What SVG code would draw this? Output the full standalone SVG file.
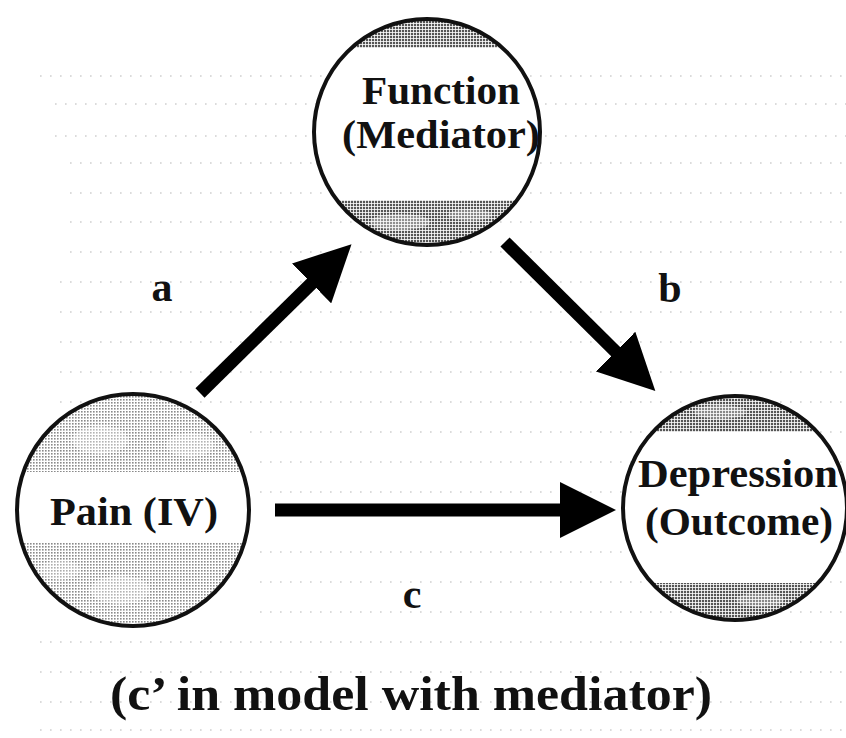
<svg xmlns="http://www.w3.org/2000/svg" width="846" height="738" viewBox="0 0 846 738">
<style>
.lbl{font-family:"Liberation Serif","Times New Roman",serif;font-weight:bold;fill:#111}
.ring{fill:none;stroke:#111;stroke-width:4}
.edge{stroke:#000;stroke-width:13;fill:none}
.bg{stroke:#cfcfcf;stroke-width:1.6;stroke-dasharray:1.6 8.4;fill:none}
</style>
<defs>
<marker id="head" markerUnits="userSpaceOnUse" viewBox="0 0 56 56" markerWidth="56" markerHeight="56" refX="2" refY="28" orient="auto">
<path d="M0,0 L56,28 L0,56 z" fill="#000"/>
</marker>
<pattern id="dotDark" width="3" height="3" patternUnits="userSpaceOnUse">
<rect width="3" height="3" fill="#fff"/><rect width="2.2" height="2.2" fill="#555"/>
</pattern>
<pattern id="dotLight" width="3" height="3" patternUnits="userSpaceOnUse">
<rect width="3" height="3" fill="#fff"/><rect width="1.6" height="1.6" fill="#8a8a8a"/>
</pattern>
<clipPath id="cFunc"><circle cx="427" cy="132" r="113"/></clipPath>
<clipPath id="cPain"><circle cx="133" cy="510" r="116"/></clipPath>
<clipPath id="cDep"><circle cx="735" cy="508" r="112"/></clipPath>
</defs>
<rect width="846" height="738" fill="#fff"/>
<g id="background">
<path class="bg" d="M40,76 H846 M55,104 H846 M55,136 H846 M70,163 H846 M70,193 H846 M70,222 H846 M70,252 H846 M60,282 H846 M60,312 H846 M60,342 H846 M60,372 H846 M60,402 H846 M250,432 H846 M260,462 H846 M260,492 H846 M260,552 H846 M260,582 H846 M260,612 H846 M40,642 H846 M40,672 H846 M40,702 H846 M40,730 H846"/>
</g>
<g id="connectors">
<line id="edge-a" class="edge" x1="200" y1="393" x2="313" y2="282" marker-end="url(#head)"/>
<line id="edge-b" class="edge" x1="505" y1="242" x2="617" y2="353" marker-end="url(#head)"/>
<line id="edge-c" class="edge" x1="275" y1="510" x2="562" y2="510" marker-end="url(#head)"/>
</g>
<g id="node-function">
<circle cx="427" cy="132" r="113" fill="#fff"/>
<g clip-path="url(#cFunc)">
<rect x="300" y="10" width="260" height="38" fill="url(#dotDark)"/>
<rect x="300" y="200" width="260" height="60" fill="url(#dotDark)"/>
<ellipse cx="400" cy="222" rx="30" ry="8" fill="#fff" opacity="0.35"/>
<ellipse cx="470" cy="215" rx="22" ry="6" fill="#fff" opacity="0.3"/>
</g>
<circle class="ring" cx="427" cy="132" r="113"/>
<text class="lbl" x="441" y="104" font-size="41" text-anchor="middle" textLength="158" lengthAdjust="spacingAndGlyphs">Function</text>
<text class="lbl" x="441" y="148" font-size="41" text-anchor="middle" textLength="198" lengthAdjust="spacingAndGlyphs">(Mediator)</text>
</g>
<g id="node-pain">
<circle cx="133" cy="510" r="116" fill="#fff"/>
<g clip-path="url(#cPain)">
<rect x="10" y="390" width="250" height="82" fill="url(#dotLight)"/>
<rect x="10" y="543" width="250" height="90" fill="url(#dotLight)"/>
<ellipse cx="100" cy="440" rx="28" ry="14" fill="#fff" opacity="0.35"/>
<ellipse cx="190" cy="445" rx="24" ry="12" fill="#fff" opacity="0.35"/>
<ellipse cx="120" cy="590" rx="30" ry="14" fill="#fff" opacity="0.35"/>
<ellipse cx="60" cy="570" rx="20" ry="10" fill="#fff" opacity="0.3"/>
</g>
<circle class="ring" cx="133" cy="510" r="116"/>
<text class="lbl" x="134" y="525" font-size="41" text-anchor="middle" textLength="168" lengthAdjust="spacingAndGlyphs">Pain (IV)</text>
</g>
<g id="node-depression">
<circle cx="735" cy="508" r="112" fill="#fff"/>
<g clip-path="url(#cDep)">
<rect x="620" y="390" width="230" height="42" fill="url(#dotDark)"/>
<rect x="620" y="583" width="230" height="45" fill="url(#dotDark)"/>
<ellipse cx="720" cy="412" rx="26" ry="7" fill="#fff" opacity="0.3"/>
<ellipse cx="760" cy="600" rx="24" ry="7" fill="#fff" opacity="0.3"/>
</g>
<circle class="ring" cx="735" cy="508" r="112"/>
<text class="lbl" x="738" y="487" font-size="41" text-anchor="middle" textLength="200" lengthAdjust="spacingAndGlyphs">Depression</text>
<text class="lbl" x="739" y="535" font-size="41" text-anchor="middle" textLength="188" lengthAdjust="spacingAndGlyphs">(Outcome)</text>
</g>
<g id="labels">
<text class="lbl" x="162" y="301" font-size="42" text-anchor="middle">a</text>
<text class="lbl" x="670" y="302" font-size="42" text-anchor="middle">b</text>
<text class="lbl" x="412" y="608" font-size="42" text-anchor="middle">c</text>
<text class="lbl" x="411" y="710" font-size="48" text-anchor="middle" textLength="602" lengthAdjust="spacingAndGlyphs">(c’ in model with mediator)</text>
</g>
</svg>
